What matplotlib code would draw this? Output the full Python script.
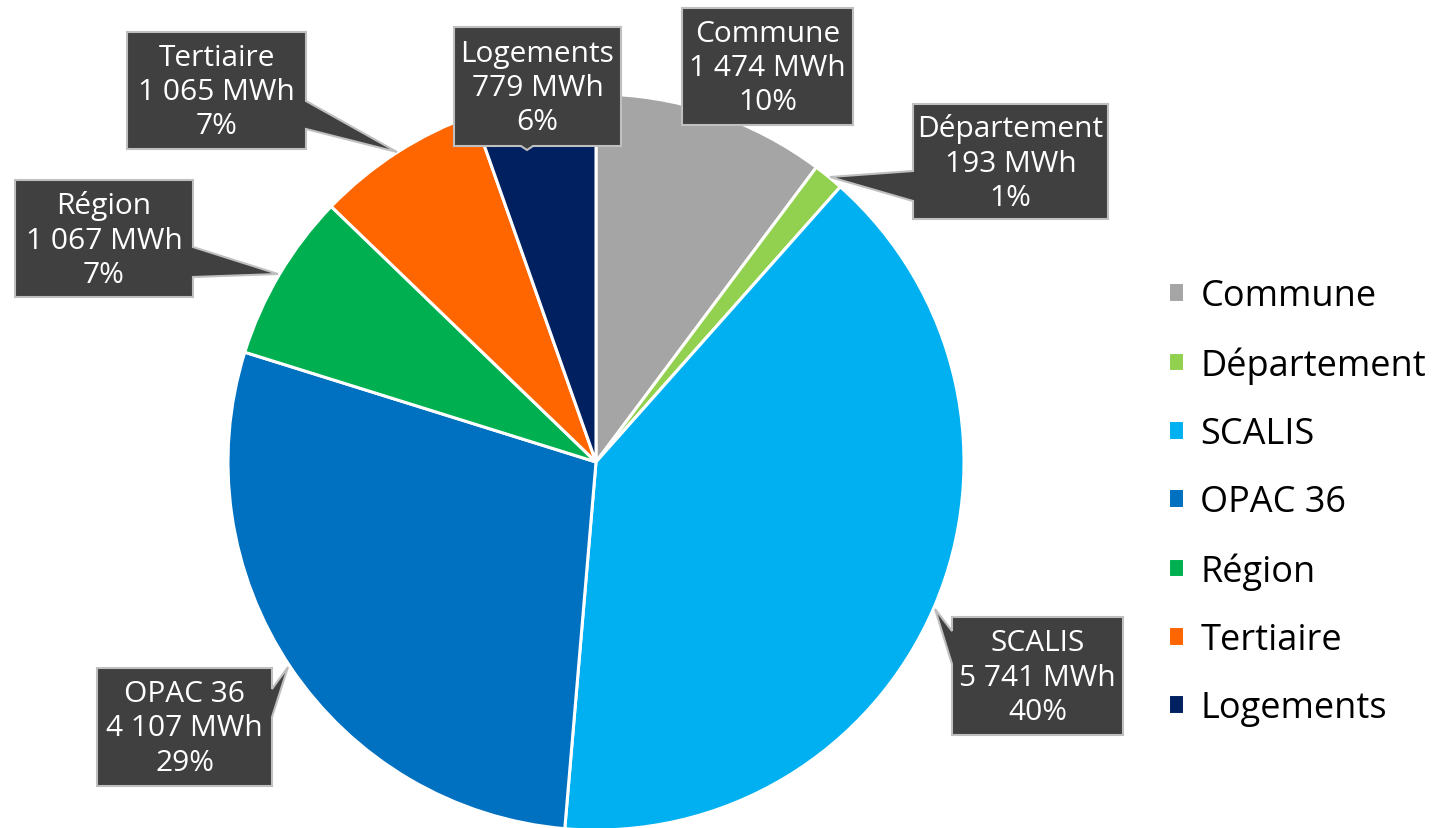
import matplotlib.pyplot as plt
from matplotlib.patches import Polygon

plt.rcParams['font.family'] = ['Open Sans', 'DejaVu Sans']

# données
categories = ['Commune', 'Département', 'SCALIS', 'OPAC 36', 'Région', 'Tertiaire', 'Logements']
mwh = [1474, 193, 5741, 4107, 1067, 1065, 779]
mwh_labels = ['1 474', '193', '5 741', '4 107', '1 067', '1 065', '779']
pct_labels = ['10%', '1%', '40%', '29%', '7%', '7%', '6%']
colors = ['#A5A5A5', '#92D050', '#00B0F0', '#0070C0', '#00B050', '#FF6600', '#002060']

W, H = 1437, 829
fig = plt.figure(figsize=(W / 100, H / 100), dpi=100)
ax = fig.add_axes([0, 0, 1, 1])

# camembert (coordonnées en pixels, axe y inversé)
wedges, _ = ax.pie(mwh, colors=colors, startangle=-90, counterclock=True,
                   center=(596, 463), radius=368,
                   wedgeprops=dict(edgecolor='white', linewidth=2.2))
ax.set_xlim(0, W)
ax.set_ylim(H, 0)
ax.set_aspect('equal')
ax.axis('off')

# bulles : boîte (x0, y0, x1, y1), côté de la pointe, base de la pointe, pointe
callouts = [
    ((682, 9, 853, 126), None, None, None),
    ((913, 105, 1108, 220), 'left', (172, 202), (830, 178)),
    ((952, 618, 1123, 736), 'left', (632, 665), (935, 610)),
    ((97, 669, 272, 787), 'right', (690, 718), (288, 668)),
    ((15, 181, 193, 298), 'right', (248, 278), (278, 275)),
    ((127, 33, 306, 150), 'right', (102, 130), (397, 153)),
    ((454, 28, 621, 147), 'bottom', (521, 533), (527, 151)),
]


def outline(box, side, base, tip):
    x0, y0, x1, y1 = box
    if side == 'left':
        return [(x0, y0), (x1, y0), (x1, y1), (x0, y1), (x0, base[1]), tip, (x0, base[0])]
    if side == 'right':
        return [(x0, y0), (x1, y0), (x1, base[0]), tip, (x1, base[1]), (x1, y1), (x0, y1)]
    if side == 'bottom':
        return [(x0, y0), (x1, y0), (x1, y1), (base[1], y1), tip, (base[0], y1), (x0, y1)]
    return [(x0, y0), (x1, y0), (x1, y1), (x0, y1)]


for i, (box, side, base, tip) in enumerate(callouts):
    ax.add_patch(Polygon(outline(box, side, base, tip), closed=True,
                         facecolor='#404040', edgecolor='#BFBFBF', linewidth=1.5, zorder=3))
    cx = (box[0] + box[2]) / 2
    cy = (box[1] + box[3]) / 2
    ax.text(cx, cy + 1, f'{categories[i]}\n{mwh_labels[i]} MWh\n{pct_labels[i]}',
            ha='center', va='center', color='white', fontsize=21.5,
            linespacing=1.23, zorder=4)

ax.legend(wedges, categories, loc='upper left', frameon=False,
          bbox_to_anchor=(1168 / W, 1 - 279 / H), bbox_transform=fig.transFigure,
          fontsize=26, handlelength=0.45, handleheight=0.45, handletextpad=0.45,
          labelspacing=0.89, borderpad=0, borderaxespad=0)

fig.savefig('out.png', dpi=100)
